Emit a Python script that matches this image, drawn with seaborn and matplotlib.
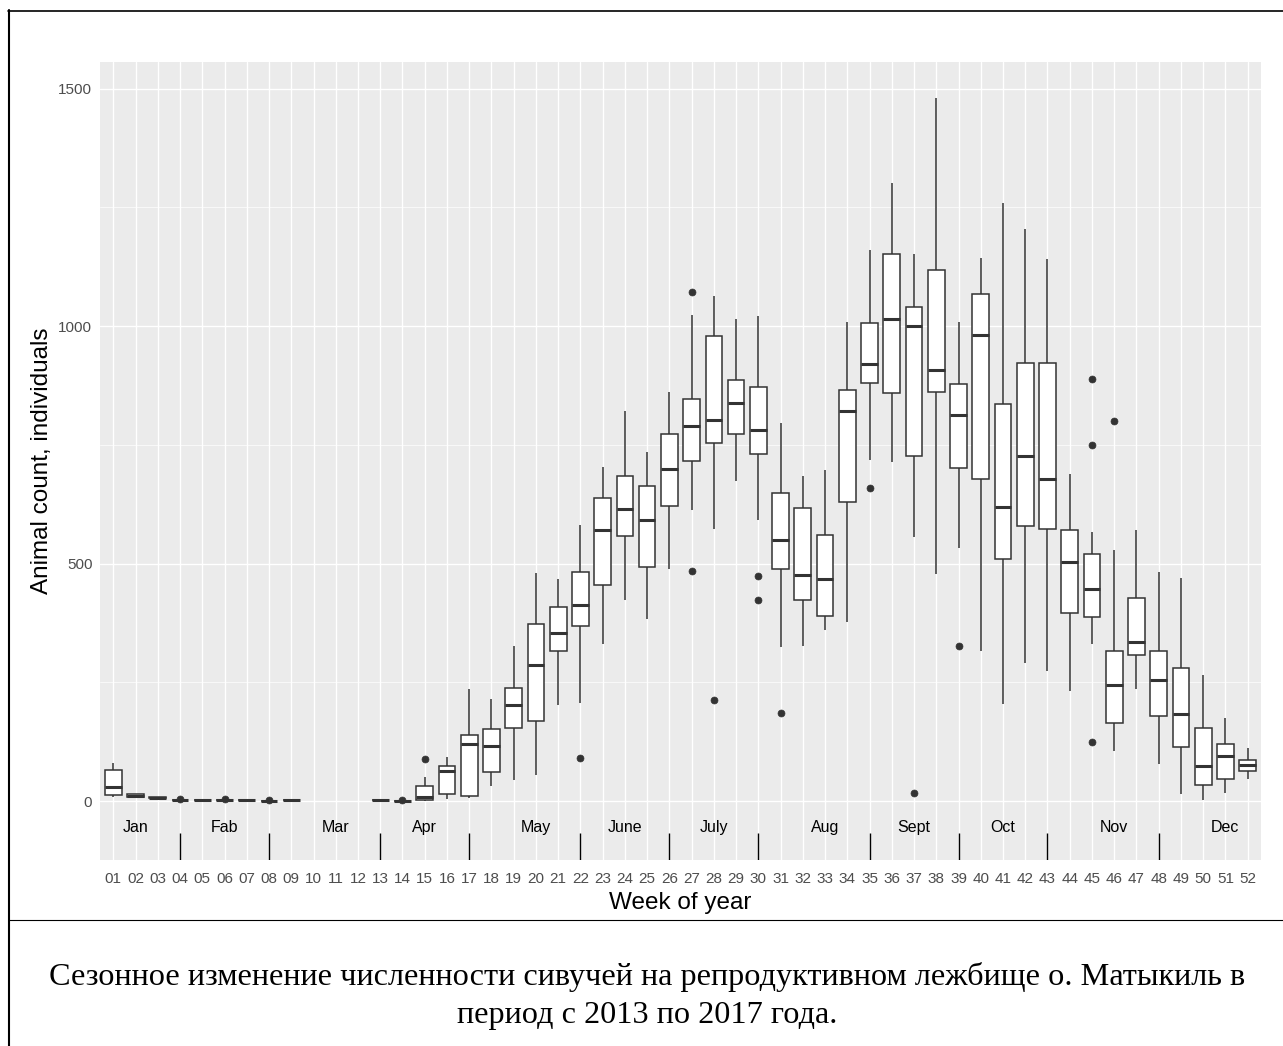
import numpy as np
import matplotlib.pyplot as plt
import matplotlib.lines as mlines
import seaborn as sns
import pandas as pd

# all week categories on the axis (10-12 have no counts)
weeks = ['01', '02', '03', '04', '05', '06', '07', '08', '09', '10', '11', '12', '13',
         '14', '15', '16', '17', '18', '19', '20', '21', '22', '23', '24', '25', '26',
         '27', '28', '29', '30', '31', '32', '33', '34', '35', '36', '37', '38', '39',
         '40', '41', '42', '43', '44', '45', '46', '47', '48', '49', '50', '51', '52']

box_weeks = ['01', '02', '03', '04', '05', '06', '07', '08', '09', '13',
             '14', '15', '16', '17', '18', '19', '20', '21', '22', '23', '24', '25', '26',
             '27', '28', '29', '30', '31', '32', '33', '34', '35', '36', '37', '38', '39',
             '40', '41', '42', '43', '44', '45', '46', '47', '48', '49', '50', '51', '52']
w_lo = [8, 9, 6, 3, 2, 3, 2, 0, 2, 2,
        1, 0, 4, 6, 32, 44, 56, 203, 206, 331, 424, 384, 488,
        612, 572, 673, 591, 325, 327, 361, 377, 719, 714, 556, 478, 532,
        315, 205, 290, 274, 232, 330, 105, 236, 79, 14, 2, 17, 46]
w_q1 = [12, 9, 6, 3, 2, 3, 2, 0, 2, 2,
        1, 2, 16, 11, 61, 153, 168, 315, 368, 455, 558, 492, 622,
        716, 754, 773, 731, 489, 423, 389, 629, 881, 859, 726, 861, 702,
        679, 509, 580, 573, 396, 388, 165, 307, 180, 114, 33, 47, 64]
w_med = [30, 11, 7, 3, 3, 3, 3, 0, 3, 3,
         1, 8, 64, 120, 117, 202, 287, 354, 413, 570, 614, 591, 699,
         789, 803, 838, 782, 550, 477, 467, 822, 921, 1014, 1000, 908, 812,
         981, 619, 727, 678, 503, 446, 245, 335, 255, 183, 74, 94, 76]
w_q3 = [66, 14, 8, 3, 3, 3, 3, 0, 3, 3,
        1, 32, 74, 140, 151, 239, 372, 409, 483, 638, 684, 664, 773,
        847, 979, 887, 871, 648, 617, 561, 866, 1006, 1152, 1041, 1119, 878,
        1067, 835, 923, 923, 570, 521, 316, 427, 316, 281, 154, 121, 87]
w_hi = [80, 14, 8, 3, 3, 3, 3, 0, 3, 3,
        1, 50, 93, 235, 214, 326, 481, 467, 582, 703, 821, 736, 862,
        1023, 1063, 1014, 1021, 795, 685, 698, 1009, 1160, 1302, 1152, 1480, 1008,
        1143, 1260, 1205, 1141, 689, 566, 528, 570, 483, 469, 265, 174, 112]

out_week = ['04', '06', '08', '14', '15', '22', '27', '27', '28', '30', '30', '31',
            '35', '37', '39', '45', '45', '45', '46']
out_val = [5, 5, 2, 3, 88, 90, 1072, 485, 213, 474, 423, 185,
           660, 17, 326, 888, 750, 125, 800]

months = ['Jan', 'Fab', 'Mar', 'Apr', 'May', 'June', 'July', 'Aug', 'Sept', 'Oct', 'Nov', 'Dec']
month_mid = ['02', '06', '11', '15', '20', '24', '28', '33', '37', '41', '46', '51']
month_breaks = ['04', '08', '13', '17', '22', '26', '30', '35', '39', '43', '48']

caption1 = 'Сезонное изменение численности сивучей на репродуктивном лежбище о. Матыкиль в'
caption2 = 'период с 2013 по 2017 года.'

# long table for seaborn: the read summary values are repeated so the
# quartiles come out exactly as read, outliers are added as they are
rows = []
for wk, lo, q1, md, q3, hi in zip(box_weeks, w_lo, w_q1, w_med, w_q3, w_hi):
    vals = [lo] + [q1] * 20 + [md] * 20 + [q3] * 20 + [hi]
    vals += [v for w, v in zip(out_week, out_val) if w == wk]
    rows += [(wk, v) for v in vals]
df = pd.DataFrame(rows, columns=['week', 'count'])

sns.set_theme(style='darkgrid', rc={'axes.facecolor': '#EBEBEB', 'grid.color': 'white'})
plt.rcParams['font.family'] = ['Liberation Sans', 'DejaVu Sans']

W, H = 1283, 1046
fig = plt.figure(figsize=(W / 100, H / 100), dpi=100)
fig.patch.set_facecolor('white')
ax = fig.add_axes([100 / W, 1 - 860 / H, 1161 / W, 798 / H])

sns.boxplot(data=df, x='week', y='count', order=weeks, width=0.75, color='white',
            linecolor='#333333', linewidth=1.1, saturation=1, fliersize=5, whis=1.5,
            medianprops={'linewidth': 2.2, 'color': '#333333'},
            capprops={'linewidth': 0},
            flierprops={'marker': 'o', 'markerfacecolor': '#333333',
                        'markeredgecolor': '#333333', 'markeredgewidth': 0.5},
            ax=ax)

pos = {w: i for i, w in enumerate(weeks)}
for name, wk in zip(months, month_mid):
    ax.text(pos[wk], -55, name, ha='center', va='center', fontsize=11.5, color='black')
ax.vlines([pos[w] for w in month_breaks], -124, -67, color='black', lw=1.0)

ax.set_xlim(-0.6, 51.6)
ax.set_ylim(-124, 1556)
ax.set_yticks([0, 500, 1000, 1500])
ax.set_yticks([250, 750, 1250], minor=True)
ax.set_xticks(range(len(weeks)))
ax.set_xticklabels(weeks)
ax.set_axisbelow(True)
ax.grid(which='major', axis='both', color='white', lw=1.0)
ax.grid(which='minor', axis='y', color='white', lw=0.5)
ax.tick_params(axis='both', which='major', length=3.3, width=0.8, color='#333333',
               labelcolor='#4D4D4D', labelsize=11, pad=2.2)
ax.tick_params(axis='x', which='major', pad=5)
ax.tick_params(which='minor', length=0)
for s in ax.spines.values():
    s.set_visible(False)

ax.set_xlabel('Week of year', fontsize=17.5, labelpad=4.5, color='black')
ax.set_ylabel('Animal count, individuals', fontsize=17.5, labelpad=4, color='black')

# frame around the figure and the caption
def px_line(x0, y0, x1, y1, lw):
    fig.add_artist(mlines.Line2D([x0 / W, x1 / W], [1 - y0 / H, 1 - y1 / H],
                                 transform=fig.transFigure, color='black', lw=lw))

px_line(8.5, 10, 8.5, H, 1.5)
px_line(7.5, 11, W, 11, 1.2)
px_line(8, 919.5, W, 919.5, 0.8)

fig.text(647 / W, 1 - 977 / H, caption1, ha='center', va='center', fontsize=23.2,
         family=['Liberation Serif', 'DejaVu Serif'], color='black')
fig.text(647 / W, 1 - 1015 / H, caption2, ha='center', va='center', fontsize=23.2,
         family=['Liberation Serif', 'DejaVu Serif'], color='black')

fig.savefig('out.png', dpi=100)
